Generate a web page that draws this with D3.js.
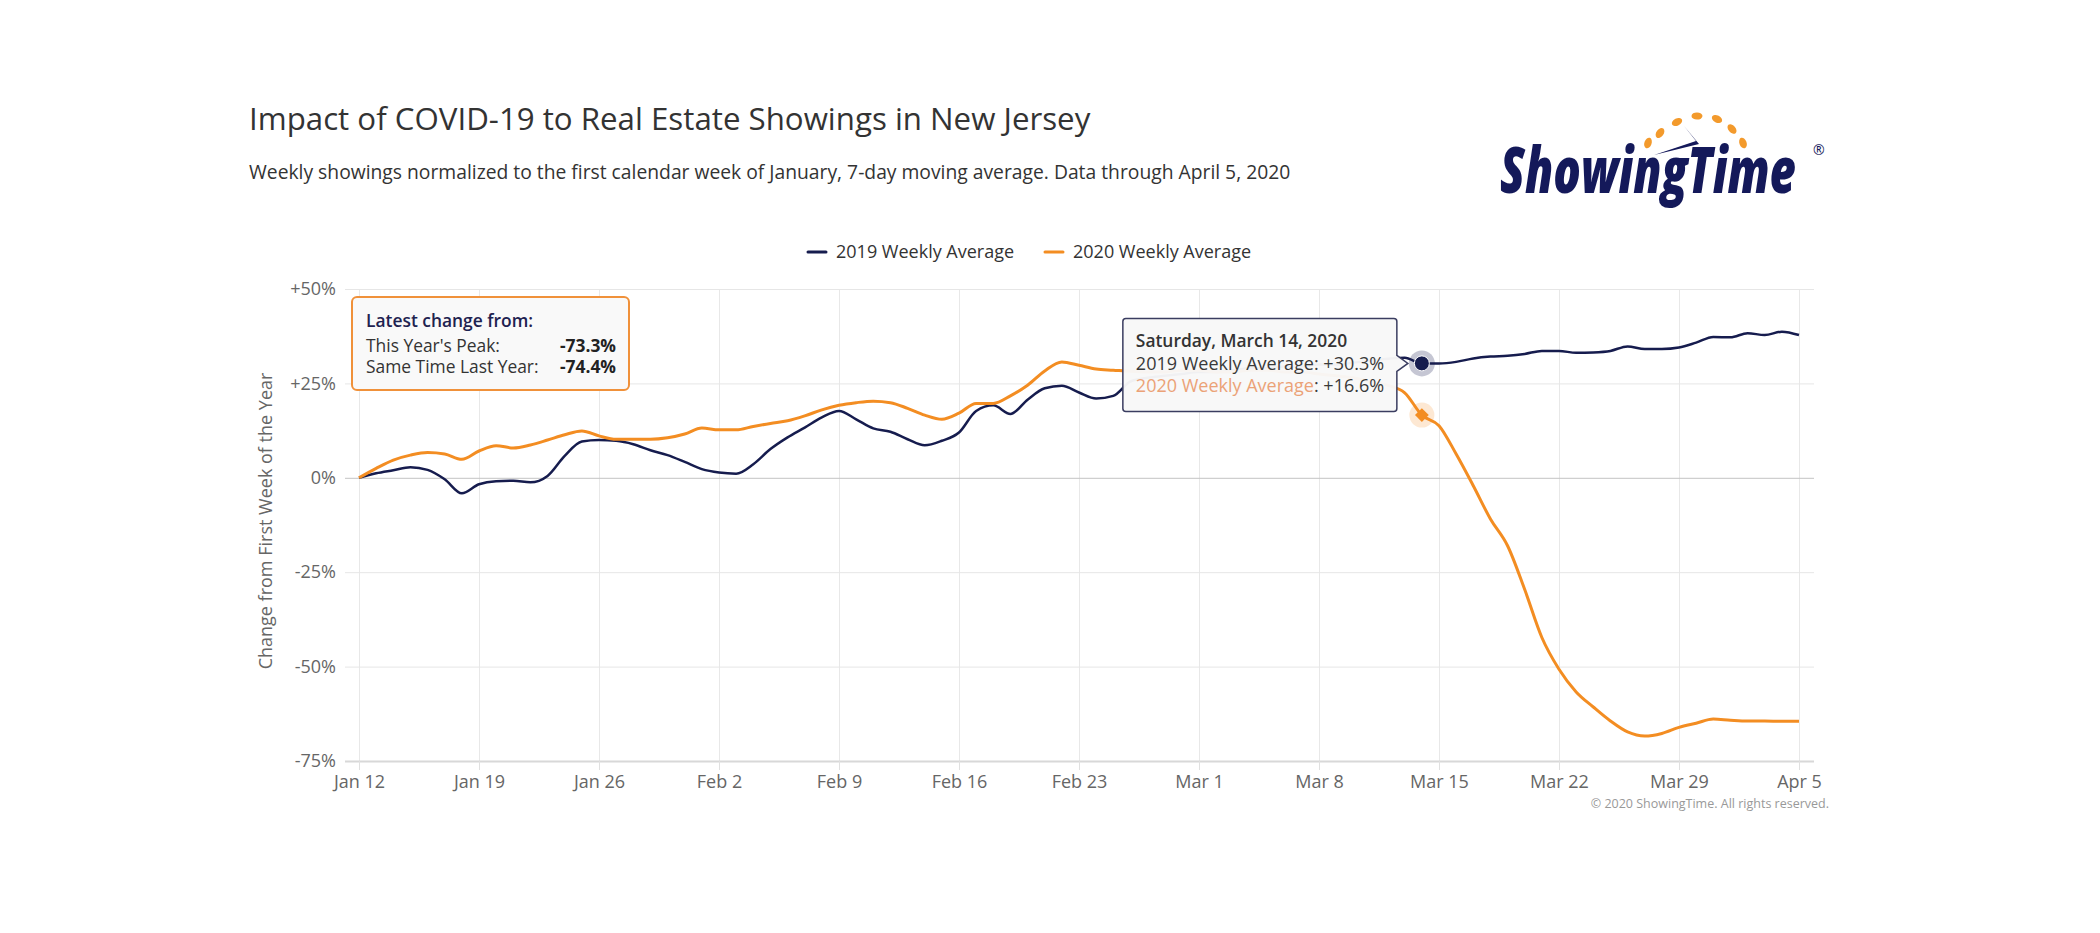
<!DOCTYPE html>
<html><head><meta charset="utf-8">
<script src="https://cdn.jsdelivr.net/npm/d3@7"></script>
<style>
body{margin:0;background:#fff;}
svg{display:block;font-family:'Open Sans',sans-serif;}
</style>
</head><body>
<svg id="c" width="2100" height="933"></svg>
<script>
// ---------- data ----------
const startDate = "2020-01-12";
const endDate = "2020-04-05";
const seriesNames = ["2019 Weekly Average", "2020 Weekly Average"];
// daily values, Jan 12 .. Apr 5 (85 days), % change from first week of year
const values2019 = [
  0, 1.2, 2.0, 2.8, 2.1, -0.4, -4.1, -1.7, -0.9, -0.8, -1.2, 0.5, 5.8, 9.6, 10, 9.8, 8.9, 7.3, 6.0, 4.2, 2.3, 1.4,
  1.1, 3.6, 7.6, 10.7, 13.3, 16.0, 17.7, 15.5, 13.1, 12.2, 10.2, 8.6, 9.8, 12.0, 17.7, 19.2, 16.9, 20.7, 23.7, 24.4, 22.6, 21.0, 21.7, 25.5,
  26.5, 27, 27.5, 28, 28, 28.5, 29, 29, 29.5, 29.5, 30, 30, 30.5, 31, 31.5, 31.8,
  30.3, 30.3, 30.7, 31.6, 32.1, 32.3, 32.8, 33.6, 33.6, 33.1, 33.2, 33.6, 34.8, 34.1, 34.1, 34.5, 35.8, 37.3, 37.2, 38.3, 37.8, 38.7, 37.8
];
const values2020 = [
  0, 2.5, 4.7, 6.0, 6.7, 6.3, 4.9, 7.1, 8.5, 7.9, 8.7, 10, 11.4, 12.4, 11.1, 10.2, 10.2, 10.2, 10.6, 11.6, 13.2, 12.7,
  12.7, 13.6, 14.4, 15.1, 16.4, 18.0, 19.2, 19.9, 20.3, 19.9, 18.4, 16.6, 15.5, 17.1, 19.7, 19.7, 21.7, 24.5, 28.3, 30.7, 29.8, 28.8, 28.5, 28.2,
  28, 28, 28.5, 28.5, 28, 28, 28.5, 28.5, 28, 28, 27.5, 27, 26.5, 25.5, 24.5, 22.5,
  16.6, 13.8, 6.3, -2.1, -10.9, -18.0, -29.6, -42.3, -50.7, -56.7, -60.7, -64.4, -67.3, -68.4, -67.7, -66.1, -65.0, -63.9, -64.2, -64.4, -64.4, -64.5, -64.5
];
const yTicks = [50, 25, 0, -25, -50, -75];
const xTickLabels = ["Jan 12","Jan 19","Jan 26","Feb 2","Feb 9","Feb 16","Feb 23","Mar 1","Mar 8","Mar 15","Mar 22","Mar 29","Apr 5"];
const tooltipDate = "2020-03-14";
const tooltipTitle = "Saturday, March 14, 2020";
const tooltipValues = ["+30.3%", "+16.6%"];
const annotationTitle = "Latest change from:";
const annotationLabels = ["This Year's Peak:", "Same Time Last Year:"];
const annotationValues = ["-73.3%", "-74.4%"];
const titleText = "Impact of COVID-19 to Real Estate Showings in New Jersey";
const subtitleText = "Weekly showings normalized to the first calendar week of January, 7-day moving average. Data through April 5, 2020";
const yAxisTitle = "Change from First Week of the Year";
const creditText = "\u00A9 2020 ShowingTime. All rights reserved.";

// ---------- setup ----------
const NAVY = "#161c4e", ORANGE = "#f38d22";
const parse = d3.timeParse("%Y-%m-%d");
const t0 = parse(startDate), t1 = parse(endDate);
const dates = d3.timeDay.range(t0, d3.timeDay.offset(t1, 1));
const tickDates = xTickLabels.map((_, i) => d3.timeDay.offset(t0, 7 * i));

const svg = d3.select("#c");
const P = {left: 345, right: 1814, top: 289, bottom: 761};
const x = d3.scaleTime().domain([t0, t1]).range([359, 1799]);
const y = d3.scaleLinear().domain([-75, 50]).range([P.bottom, P.top]);

svg.append("rect").attr("width", 2100).attr("height", 933).attr("fill", "#fff");

// titles
svg.append("text").attr("x", 249).attr("y", 130).attr("font-size", 31.25).attr("fill", "#333").text(titleText);
svg.append("text").attr("x", 249).attr("y", 179).attr("font-size", 19.3).attr("fill", "#333").text(subtitleText);

// logo
const logo = svg.append("g");
const logoText = logo.append("text").attr("font-size", 64).attr("font-weight", 800)
  .attr("font-style", "italic").attr("fill", "#14195a").text("ShowingTime");
const natW = logoText.node().getComputedTextLength();
logoText.attr("transform", `translate(1500,193) scale(${296 / natW},1)`);
logo.append("text").attr("x", 1813).attr("y", 155).attr("font-size", 14).attr("fill", "#14195a").text("\u00AE");
const dots = [[1648,143],[1660,133],[1677,122],[1697,116],[1717,119],[1732,129],[1743,143]];
const cx0 = 1696, cy0 = 160;
dots.forEach(d => {
  const ang = Math.atan2(d[1] - cy0, d[0] - cx0) * 180 / Math.PI + 90;
  logo.append("ellipse").attr("cx", d[0]).attr("cy", d[1]).attr("rx", 5.5).attr("ry", 3.6)
    .attr("transform", `rotate(${ang},${d[0]},${d[1]})`).attr("fill", "#f39a2c");
});
logo.append("path").attr("d", "M1684,126 L1699,144 L1654,155 L1696,141 Z").attr("fill", "#14195a");

// legend
const legend = svg.append("g");
const legItems = [{x: 808, c: NAVY, t: seriesNames[0]}, {x: 1045, c: ORANGE, t: seriesNames[1]}];
legItems.forEach(d => {
  legend.append("line").attr("x1", d.x).attr("x2", d.x + 18).attr("y1", 252).attr("y2", 252)
    .attr("stroke", d.c).attr("stroke-width", 3).attr("stroke-linecap", "round");
  legend.append("text").attr("x", d.x + 28).attr("y", 258).attr("font-size", 18).attr("fill", "#333").text(d.t);
});

// vertical gridlines
const vgrid = svg.append("g").attr("transform", `translate(0,${P.bottom})`)
  .call(d3.axisBottom(x).tickValues(tickDates).tickSize(-(P.bottom - P.top)).tickFormat(""));
vgrid.select(".domain").remove();
vgrid.selectAll("line").attr("stroke", "#e8e8e8");

// y axis + horizontal gridlines
const yAxis = svg.append("g").attr("transform", `translate(${P.left},0)`)
  .call(d3.axisLeft(y).tickValues(yTicks).tickSize(-(P.right - P.left)).tickPadding(9)
    .tickFormat(d => (d > 0 ? "+" : "") + d + "%"));
yAxis.select(".domain").remove();
yAxis.selectAll(".tick line").attr("stroke", d => d === 0 ? "#c4c4c4" : (d === -75 ? "#d8d8d8" : "#e6e6e6"))
  .attr("stroke-width", d => d === -75 ? 2 : 1);
yAxis.selectAll(".tick text").attr("font-size", 18).attr("fill", "#666").attr("font-family", "'Open Sans',sans-serif");

// x axis
const xAxis = svg.append("g").attr("transform", `translate(0,${P.bottom})`)
  .call(d3.axisBottom(x).tickValues(tickDates).tickSize(9).tickPadding(5)
    .tickFormat((d, i) => xTickLabels[i]));
xAxis.select(".domain").remove();
xAxis.selectAll(".tick line").attr("stroke", "#e0e0e0");
xAxis.selectAll(".tick text").attr("font-size", 18).attr("fill", "#666").attr("font-family", "'Open Sans',sans-serif");

// y axis title
svg.append("text").attr("transform", `translate(272,${(P.top + P.bottom) / 2 - 4}) rotate(-90)`)
  .attr("text-anchor", "middle").attr("font-size", 18).attr("fill", "#666").text(yAxisTitle);

// lines
const line = d3.line().x((d, i) => x(dates[i])).y(d => y(d)).curve(d3.curveMonotoneX);
svg.append("path").datum(values2019).attr("d", line).attr("fill", "none").attr("stroke", NAVY)
  .attr("stroke-width", 2.5).attr("stroke-linejoin", "round");
svg.append("path").datum(values2020).attr("d", line).attr("fill", "none").attr("stroke", ORANGE)
  .attr("stroke-width", 3).attr("stroke-linejoin", "round");

// hover markers
const td = parse(tooltipDate);
const ti = d3.timeDay.count(t0, td);
const px = x(td), py1 = y(values2019[ti]), py2 = y(values2020[ti]);
svg.append("circle").attr("cx", px).attr("cy", py1).attr("r", 13).attr("fill", NAVY).attr("opacity", 0.25);
svg.append("circle").attr("cx", px).attr("cy", py1).attr("r", 7.5).attr("fill", NAVY).attr("stroke", "#fff").attr("stroke-width", 1);
svg.append("circle").attr("cx", px).attr("cy", py2).attr("r", 12.5).attr("fill", ORANGE).attr("opacity", 0.2);
svg.append("path").attr("d", d3.symbol(d3.symbolSquare, 95)()).attr("transform", `translate(${px},${py2}) rotate(45)`)
  .attr("fill", ORANGE);

// tooltip
const bx1 = px - 25, bx0 = bx1 - 274, by0 = py1 - 45, by1 = by0 + 93, r = 3;
const ay = py1;
const tipPath = `M${bx0 + r},${by0} L${bx1 - r},${by0} Q${bx1},${by0} ${bx1},${by0 + r}
 L${bx1},${ay - 8} L${px - 14},${ay} L${bx1},${ay + 8}
 L${bx1},${by1 - r} Q${bx1},${by1} ${bx1 - r},${by1} L${bx0 + r},${by1} Q${bx0},${by1} ${bx0},${by1 - r}
 L${bx0},${by0 + r} Q${bx0},${by0} ${bx0 + r},${by0} Z`;
svg.append("path").attr("d", tipPath).attr("fill", "#f8f8f8").attr("fill-opacity", 0.97)
  .attr("stroke", "#3a3d60").attr("stroke-width", 1.5);
const tt = svg.append("g").attr("font-size", 18);
tt.append("text").attr("x", bx0 + 13).attr("y", by0 + 29).attr("font-size", 17.4).attr("fill", "#333").attr("font-weight", 600).text(tooltipTitle);
const l2 = tt.append("text").attr("x", bx0 + 13).attr("y", by0 + 52).attr("fill", "#3a3a3a");
l2.append("tspan").text(seriesNames[0]);
l2.append("tspan").text(": " + tooltipValues[0]);
const l3 = tt.append("text").attr("x", bx0 + 13).attr("y", by0 + 74).attr("fill", "#3a3a3a");
l3.append("tspan").attr("fill", "#eba277").text(seriesNames[1]);
l3.append("tspan").text(": " + tooltipValues[1]);

// annotation box
const ax0 = 352, ay0 = 297;
svg.append("rect").attr("x", ax0).attr("y", ay0).attr("width", 277).attr("height", 93).attr("rx", 5)
  .attr("fill", "#f9f9f9").attr("stroke", "#f0913a").attr("stroke-width", 2);
const an = svg.append("g").attr("font-size", 17.4);
an.append("text").attr("x", ax0 + 14).attr("y", ay0 + 30).attr("fill", "#1e2250").attr("font-weight", 600).text(annotationTitle);
annotationLabels.forEach((t, i) => {
  an.append("text").attr("x", ax0 + 14).attr("y", ay0 + 55 + 21 * i).attr("fill", "#333").text(t);
  an.append("text").attr("x", ax0 + 264).attr("y", ay0 + 55 + 21 * i).attr("text-anchor", "end")
    .attr("fill", "#222").attr("font-weight", 700).text(annotationValues[i]);
});

// credit
svg.append("text").attr("x", 1829).attr("y", 808).attr("text-anchor", "end").attr("font-size", 12.5)
  .attr("fill", "#999").text(creditText);
</script>
</body></html>
